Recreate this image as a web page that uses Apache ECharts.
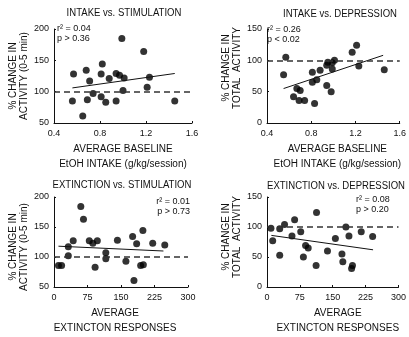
<!DOCTYPE html>
<html>
<head>
<meta charset="utf-8">
<script src="https://cdn.jsdelivr.net/npm/echarts@6/dist/echarts.min.js"></script>
<style>
  body { margin: 0; background: #fff; }
  #chart { width: 409px; height: 337px; }
</style>
</head>
<body>
<div id="chart"></div>
<script>
// intake vs. stimulation
const intakeStimX = [0.56, 0.57, 0.65, 0.68, 0.69, 0.71, 0.74, 0.81, 0.82, 0.81, 0.85, 0.88, 0.94, 0.94, 0.97, 0.99, 1.01, 1.00, 1.18, 1.21, 1.23, 1.45];
const intakeStimY = [85, 128, 61, 134, 87, 117, 97, 92, 144, 128, 83, 121, 129, 85, 126, 185, 122, 102, 164, 107, 123, 85];
const intakeStimFitX = [0.56, 1.45];
const intakeStimFitY = [106, 129];

// intake vs. depression
const intakeDepX = [0.55, 0.57, 0.64, 0.67, 0.69, 0.70, 0.74, 0.81, 0.81, 0.83, 0.85, 0.88, 0.94, 0.94, 0.95, 0.98, 0.99, 1.01, 0.99, 1.17, 1.21, 1.23, 1.46];
const intakeDepY = [77, 105, 42, 55, 36, 52, 36, 81, 65, 31, 69, 84, 60, 92, 97, 50, 86, 100, 96, 113, 124, 91, 85];
const intakeDepFitX = [0.55, 1.45];
const intakeDepFitY = [55, 108];

// extinction vs. stimulation
const extStimX = [10, 17, 32, 32, 43, 60, 66, 79, 87, 97, 92, 116, 116, 142, 161, 176, 179, 185, 194, 200, 199, 221, 248];
const extStimY = [86, 86, 117, 102, 127, 184, 163, 127, 123, 127, 83, 107, 97, 128, 93, 134, 61, 122, 86, 87, 144, 123, 120];
const extStimFitX = [10, 245];
const extStimFitY = [118, 110];

// extinction vs. depression
const extDepX = [9, 13, 29, 29, 40, 57, 63, 77, 88, 94, 83, 113, 112, 138, 156, 171, 173, 180, 187, 195, 193, 215, 241];
const extDepY = [98, 77, 53, 97, 104, 85, 112, 92, 69, 65, 50, 124, 36, 60, 81, 55, 42, 100, 85, 36, 31, 92, 84];
const extDepFitX = [10, 242];
const extDepFitY = [86, 62];

const titles = ["INTAKE vs. STIMULATION", "INTAKE vs. DEPRESSION", "EXTINCTION vs. STIMULATION", "EXTINCTION vs. DEPRESSION"];
const stats = [["r² = 0.04", "p > 0.36"], ["r² = 0.26", "p < 0.02"], ["r² = 0.01", "p > 0.73"], ["r² = 0.08", "p > 0.20"]];
const xNames = ["AVERAGE BASELINE\nEtOH INTAKE (g/kg/session)", "AVERAGE\nEXTINCTON RESPONSES"];
const yNames = ["% CHANGE IN\nACTIVITY (0-5 min)", "% CHANGE IN\nTOTAL  ACTIVITY"];

const FONT = "Liberation Sans";
const chart = echarts.init(document.getElementById("chart"));

const pairs = (xs, ys) => xs.map((x, i) => [x, ys[i]]);

function xAxis(idx, min, max, interval, name, pad) {
  return {
    gridIndex: idx, type: "value", min: min, max: max, interval: interval,
    name: name, nameLocation: "middle", nameGap: 18,
    nameTextStyle: { fontFamily: FONT, fontSize: 10, color: "#111", lineHeight: 15.5, verticalAlign: "top", padding: pad },
    axisLine: { show: true, onZero: false, lineStyle: { color: "#111", width: 1 } },
    axisTick: { show: true, inside: true, length: 2, lineStyle: { color: "#111" } },
    axisLabel: { fontFamily: FONT, fontSize: 9, color: "#111", margin: 6 },
    splitLine: { show: false }
  };
}
function yAxis(idx, min, max, interval, name, pad) {
  return {
    gridIndex: idx, type: "value", min: min, max: max, interval: interval,
    name: name, nameLocation: "middle", nameGap: 21, nameRotate: 90,
    nameTextStyle: { fontFamily: FONT, fontSize: 10, color: "#111", lineHeight: 11, padding: pad },
    axisLine: { show: true, onZero: false, lineStyle: { color: "#111", width: 1 } },
    axisTick: { show: true, inside: true, length: 2, lineStyle: { color: "#111" } },
    axisLabel: { fontFamily: FONT, fontSize: 9, color: "#111", margin: 5 },
    splitLine: { show: false }
  };
}
function scatter(idx, xs, ys) {
  return {
    type: "scatter", xAxisIndex: idx, yAxisIndex: idx,
    data: pairs(xs, ys), symbolSize: 7,
    itemStyle: { color: "#000" },
    markLine: {
      silent: true, symbol: "none", label: { show: false },
      lineStyle: { color: "#333", type: [6, 4], width: 1.5 },
      data: [{ yAxis: 100 }]
    }
  };
}
function fit(idx, xs, ys) {
  return {
    type: "line", xAxisIndex: idx, yAxisIndex: idx,
    data: pairs(xs, ys), symbol: "none",
    lineStyle: { color: "#111", width: 1 }
  };
}

const titlePos = [[124, 13], [340, 14], [122, 185], [336, 186]];
const statPos = [[57, 24, "left"], [267, 25, "left"], [190, 197, "right"], [356, 195, "left"]];

const graphics = [];
titles.forEach((t, i) => {
  graphics.push({
    type: "text", x: titlePos[i][0], y: titlePos[i][1], scaleX: 0.955,
    style: { text: t, fill: "#111", fontSize: 10, fontFamily: FONT, align: "center", verticalAlign: "middle" }
  });
});
stats.forEach((s, i) => {
  graphics.push({
    type: "text", x: statPos[i][0], y: statPos[i][1],
    style: { text: s.join("\n"), fill: "#111", fontSize: 9, fontFamily: FONT, lineHeight: 10, align: statPos[i][2], verticalAlign: "top" }
  });
});

chart.setOption({
  animation: false,
  grid: [
    { left: 54, top: 29, width: 138, height: 94 },
    { left: 267, top: 29, width: 137, height: 94 },
    { left: 54, top: 197, width: 134, height: 94 },
    { left: 267, top: 197, width: 137, height: 95 }
  ],
  xAxis: [
    xAxis(0, 0.4, 1.6, 0.4, xNames[0], [0, 0, 0, 0]),
    xAxis(1, 0.4, 1.6, 0.4, xNames[0], [0, 0, 0, 8]),
    xAxis(2, 0, 300, 75, xNames[1], [0, 12, 0, 0]),
    xAxis(3, 0, 300, 75, xNames[1], [0, 0, 0, 10])
  ],
  yAxis: [
    yAxis(0, 50, 200, 50, yNames[0], [0, 0, 0, 0]),
    yAxis(1, 0, 150, 50, yNames[1], [0, 0, 0, 16]),
    yAxis(2, 50, 200, 50, yNames[0], [0, 10, 0, 0]),
    yAxis(3, 0, 150, 50, yNames[1], [0, 0, 0, 10])
  ],
  series: [
    scatter(0, intakeStimX, intakeStimY), fit(0, intakeStimFitX, intakeStimFitY),
    scatter(1, intakeDepX, intakeDepY), fit(1, intakeDepFitX, intakeDepFitY),
    scatter(2, extStimX, extStimY), fit(2, extStimFitX, extStimFitY),
    scatter(3, extDepX, extDepY), fit(3, extDepFitX, extDepFitY)
  ],
  graphic: graphics
});
</script>
</body>
</html>
